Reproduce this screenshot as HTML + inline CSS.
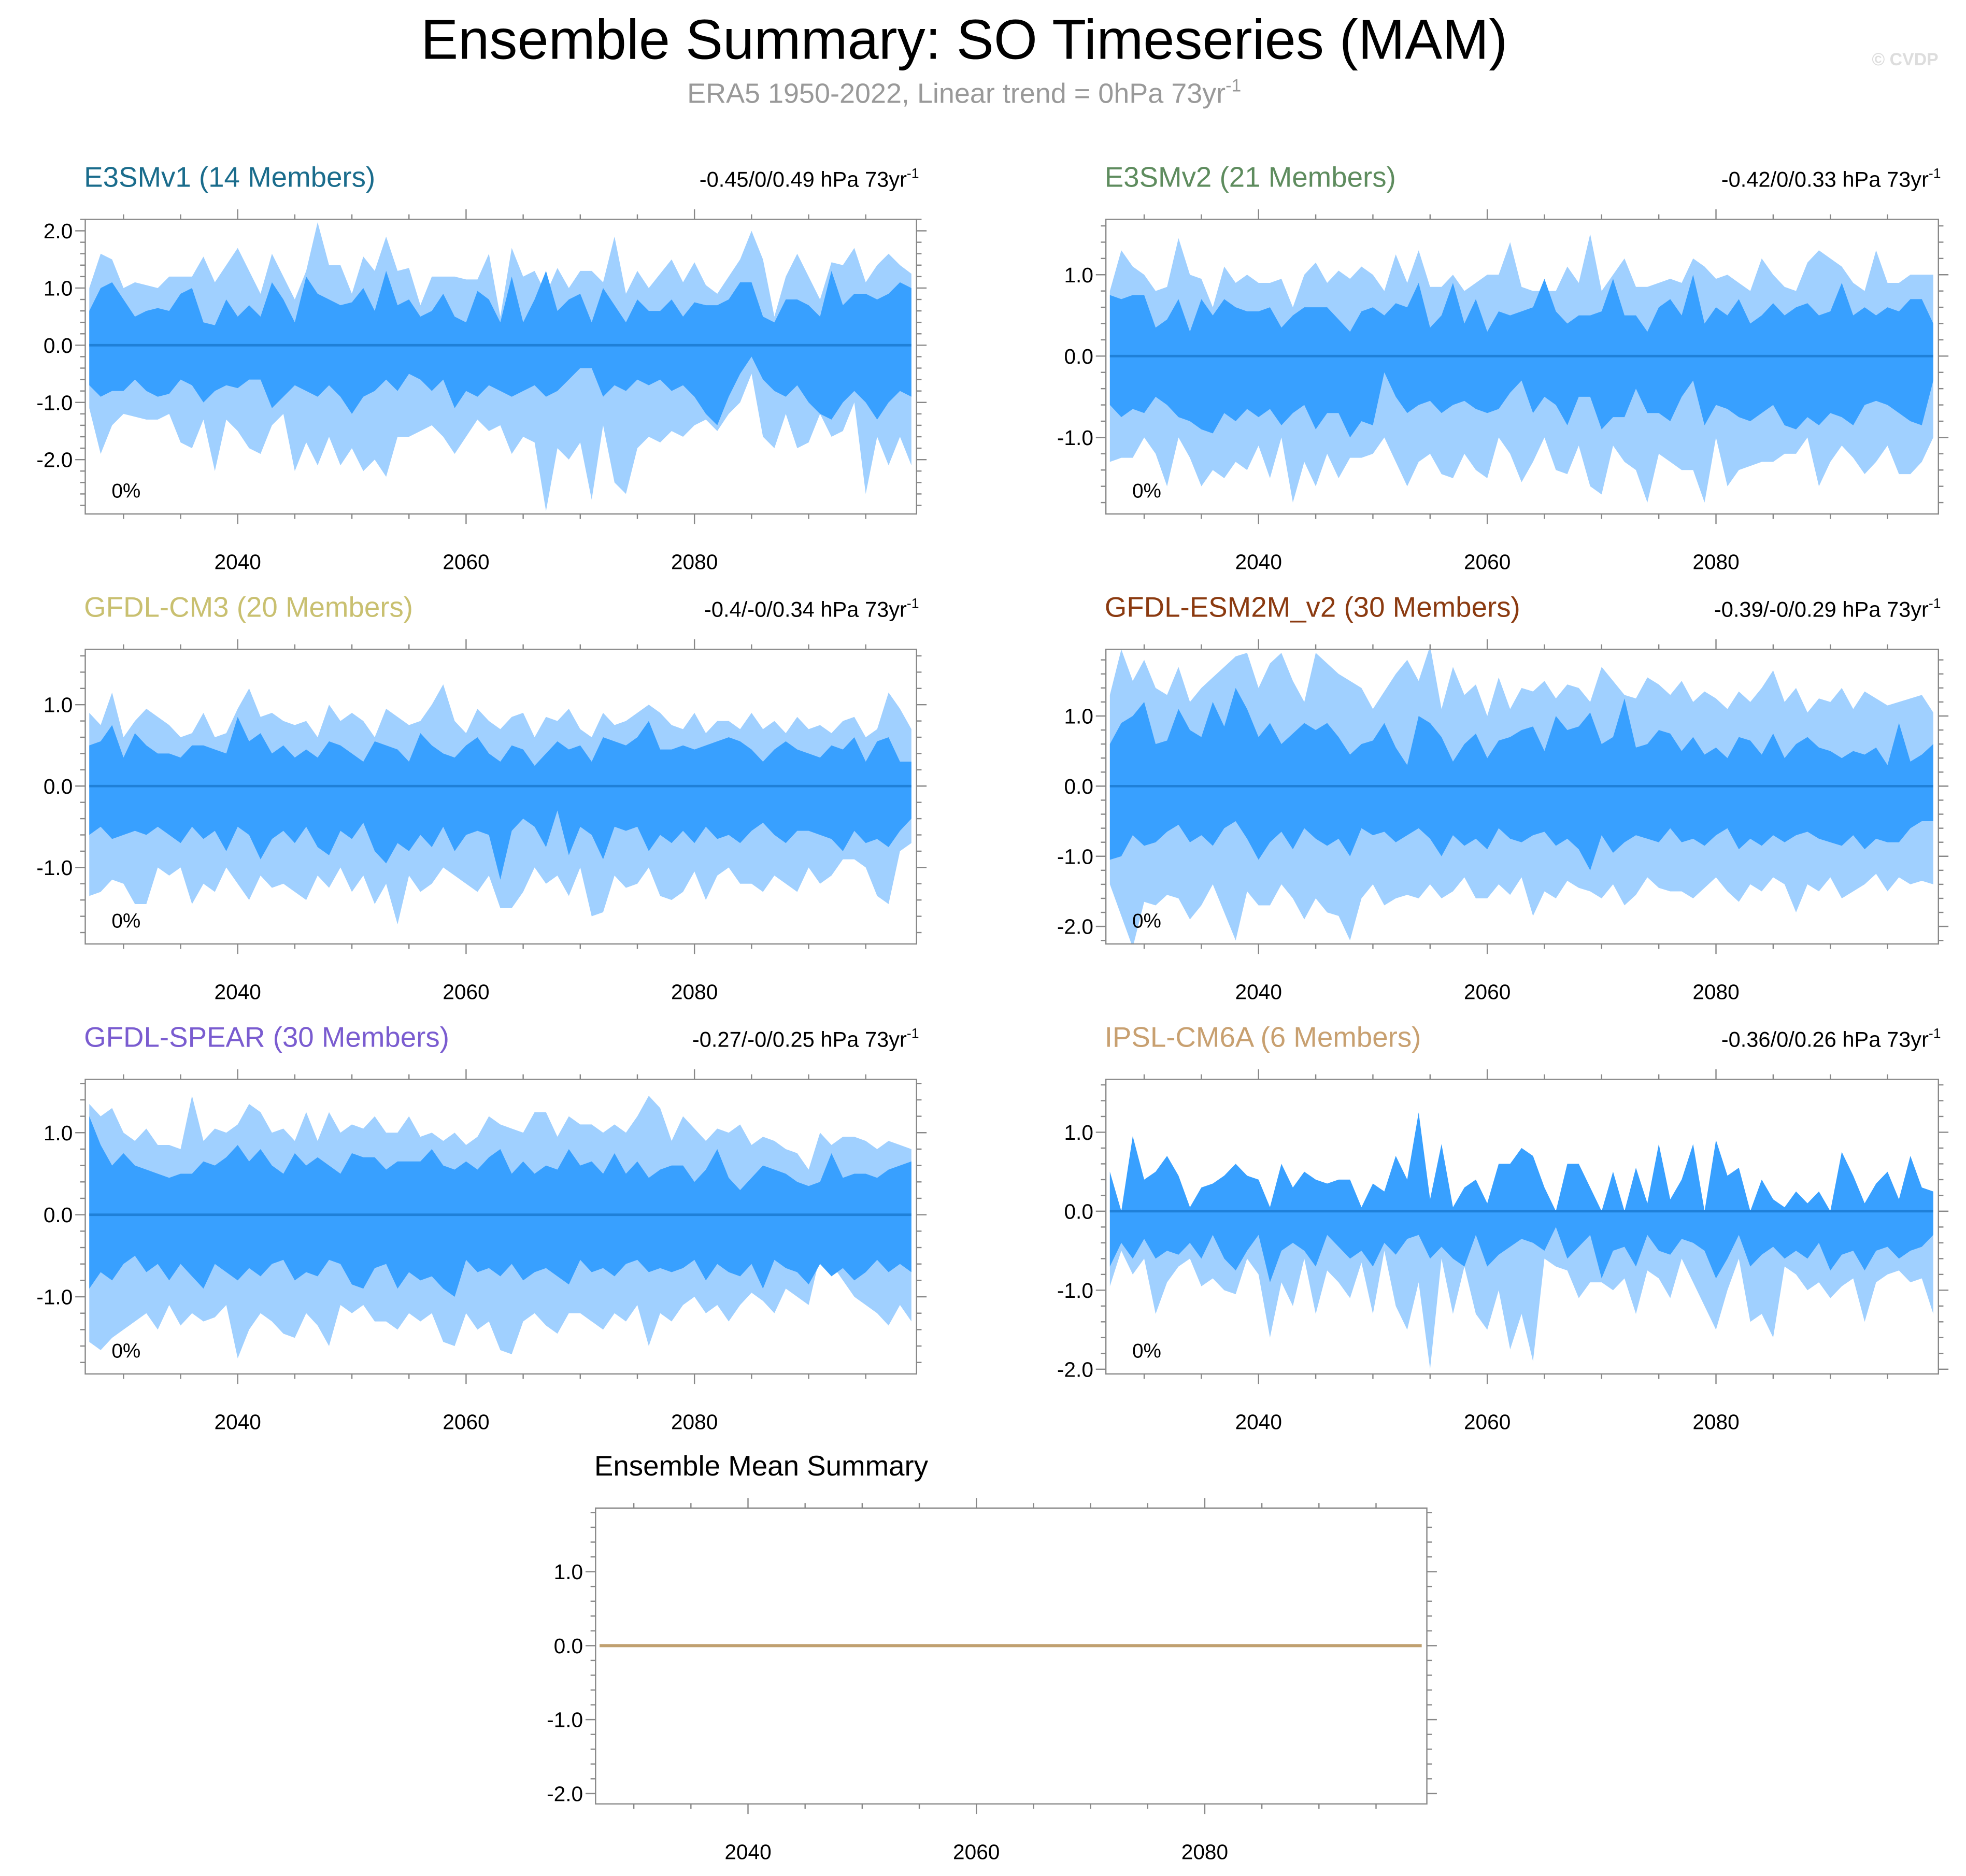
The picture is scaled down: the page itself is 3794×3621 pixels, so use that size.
<!DOCTYPE html>
<html><head><meta charset="utf-8"><style>
html,body{margin:0;padding:0;background:#fff}
svg{display:block;font-family:"Liberation Sans",Arial,sans-serif}
</style></head><body>
<svg id="chart" width="3794" height="3621" viewBox="0 0 1568 1496.5" xmlns="http://www.w3.org/2000/svg">
<rect width="1568" height="1497" fill="#fff"/>
<text x="769" y="47" font-size="44.7" text-anchor="middle" fill="#000">Ensemble Summary: SO Timeseries (MAM)</text>
<text x="769" y="82" font-size="22.3" text-anchor="middle" fill="#999">ERA5 1950-2022, Linear trend = 0hPa 73yr<tspan dy="-9" font-size="14">-1</tspan></text>
<text x="1546" y="52" font-size="14" font-weight="bold" text-anchor="end" fill="#ddd">© CVDP</text>
<g id="panels"></g>
</svg>
<script>
const yearStart = 2027;
const xTickLabels = [2040, 2060, 2080];
const ensMean = [0,0,0,0,0,0,0,0,0,0,0,0,0,0,0,0,0,0,0,0,0,0,0,0,0,0,0,0,0,0,0,0,0,0,0,0,0,0,0,0,0,0,0,0,0,0,0,0,0,0,0,0,0,0,0,0,0,0,0,0,0,0,0,0,0,0,0,0,0,0,0,0,0];

const p1Hi=[1.0,1.6,1.5,1.0,1.1,1.05,1.0,1.2,1.2,1.2,1.55,1.1,1.4,1.7,1.3,0.9,1.6,1.2,0.8,1.3,2.15,1.4,1.4,0.9,1.55,1.3,1.9,1.3,1.35,0.7,1.2,1.2,1.2,1.15,1.15,1.6,0.5,1.7,1.2,1.3,0.9,1.35,1.0,1.3,1.3,1.1,1.9,0.9,1.3,1.0,1.25,1.5,1.1,1.45,1.05,0.9,1.2,1.5,2.0,1.5,0.5,1.2,1.6,1.2,0.8,1.45,1.4,1.7,1.1,1.4,1.6,1.4,1.25];
const p1Up=[0.6,1.0,1.1,0.8,0.5,0.6,0.65,0.6,0.9,1.0,0.4,0.35,0.8,0.5,0.7,0.5,1.1,0.8,0.4,1.2,0.9,0.8,0.7,0.75,1.0,0.6,1.3,0.7,0.8,0.5,0.6,0.9,0.5,0.4,0.95,0.8,0.4,1.2,0.4,0.8,1.3,0.6,0.8,0.9,0.4,1.0,0.7,0.4,0.8,0.6,0.6,0.8,0.5,0.75,0.7,0.7,0.8,1.1,1.1,0.5,0.4,0.8,0.8,0.7,0.5,1.3,0.7,0.9,0.9,0.8,0.9,1.1,1.0];
const p1Lo=[-0.7,-0.9,-0.8,-0.8,-0.6,-0.8,-0.9,-0.85,-0.6,-0.7,-1.0,-0.8,-0.7,-0.75,-0.6,-0.6,-1.1,-0.9,-0.7,-0.8,-0.9,-0.7,-0.9,-1.2,-0.9,-0.8,-0.6,-0.8,-0.5,-0.6,-0.8,-0.6,-1.1,-0.8,-0.9,-0.7,-0.8,-0.9,-0.8,-0.7,-0.9,-0.8,-0.6,-0.4,-0.4,-0.9,-0.7,-0.8,-0.6,-0.7,-0.6,-0.8,-0.7,-0.9,-1.2,-1.4,-0.9,-0.5,-0.2,-0.6,-0.8,-0.9,-0.7,-1.0,-1.2,-1.3,-1.0,-0.8,-1.0,-1.3,-1.0,-0.8,-0.9];
const p1Lw=[-1.1,-1.9,-1.4,-1.2,-1.25,-1.3,-1.3,-1.2,-1.7,-1.8,-1.3,-2.2,-1.3,-1.5,-1.8,-1.9,-1.4,-1.2,-2.2,-1.7,-2.1,-1.6,-2.1,-1.8,-2.2,-2.0,-2.3,-1.6,-1.6,-1.5,-1.4,-1.6,-1.9,-1.6,-1.3,-1.5,-1.4,-1.9,-1.6,-1.7,-2.9,-1.8,-2.0,-1.7,-2.7,-1.4,-2.4,-2.6,-1.8,-1.6,-1.7,-1.5,-1.6,-1.4,-1.3,-1.5,-1.2,-1.0,-0.5,-1.6,-1.8,-1.2,-1.8,-1.7,-1.2,-1.6,-1.5,-1.0,-2.6,-1.6,-2.1,-1.6,-2.1];

const p2Hi=[0.8,1.3,1.1,1.0,0.8,0.85,1.45,1.0,0.95,0.6,1.1,0.9,1.0,0.9,0.9,0.95,0.6,1.0,1.15,0.9,1.05,0.95,1.1,1.0,0.8,1.25,0.9,1.3,0.85,0.85,1.0,0.8,0.9,1.0,1.0,1.4,0.85,0.8,0.8,0.8,1.1,0.9,1.5,0.8,1.0,1.2,0.85,0.85,0.9,0.95,0.9,1.2,1.1,0.95,1.0,0.9,0.8,1.2,1.0,0.85,0.8,1.15,1.3,1.2,1.1,0.9,0.8,1.3,0.9,0.9,1.0,1.0,1.0];
const p2Up=[0.75,0.7,0.75,0.75,0.35,0.45,0.7,0.3,0.7,0.5,0.7,0.6,0.55,0.55,0.6,0.35,0.5,0.6,0.6,0.6,0.45,0.3,0.55,0.6,0.5,0.65,0.6,0.9,0.35,0.5,0.9,0.4,0.7,0.3,0.55,0.5,0.55,0.6,0.95,0.55,0.4,0.5,0.5,0.55,0.95,0.5,0.5,0.3,0.6,0.7,0.5,1.0,0.4,0.6,0.5,0.7,0.4,0.5,0.65,0.5,0.6,0.65,0.5,0.55,0.9,0.5,0.6,0.5,0.6,0.55,0.7,0.7,0.4];
const p2Lo=[-0.6,-0.75,-0.65,-0.7,-0.5,-0.6,-0.75,-0.8,-0.9,-0.95,-0.7,-0.8,-0.65,-0.75,-0.65,-0.85,-0.7,-0.6,-0.9,-0.7,-0.7,-1.0,-0.8,-0.85,-0.2,-0.5,-0.7,-0.6,-0.55,-0.7,-0.6,-0.55,-0.65,-0.7,-0.65,-0.45,-0.3,-0.7,-0.5,-0.6,-0.85,-0.5,-0.5,-0.9,-0.75,-0.75,-0.4,-0.7,-0.7,-0.8,-0.5,-0.3,-0.85,-0.6,-0.65,-0.75,-0.8,-0.7,-0.6,-0.85,-0.9,-0.75,-0.85,-0.7,-0.75,-0.85,-0.6,-0.55,-0.6,-0.7,-0.8,-0.85,-0.3];
const p2Lw=[-1.3,-1.25,-1.25,-1.0,-1.2,-1.6,-1.0,-1.25,-1.6,-1.4,-1.5,-1.3,-1.4,-1.1,-1.5,-1.0,-1.8,-1.3,-1.6,-1.2,-1.5,-1.25,-1.25,-1.2,-1.0,-1.3,-1.6,-1.3,-1.2,-1.45,-1.5,-1.2,-1.4,-1.5,-1.0,-1.2,-1.55,-1.3,-1.0,-1.4,-1.45,-1.1,-1.6,-1.7,-1.1,-1.3,-1.4,-1.8,-1.2,-1.3,-1.4,-1.4,-1.8,-1.0,-1.6,-1.4,-1.35,-1.3,-1.3,-1.2,-1.2,-1.0,-1.6,-1.3,-1.1,-1.25,-1.45,-1.3,-1.1,-1.45,-1.45,-1.3,-1.0];

const p3Hi=[0.9,0.75,1.15,0.6,0.8,0.95,0.85,0.75,0.6,0.65,0.9,0.6,0.65,0.95,1.2,0.85,0.9,0.8,0.75,0.8,0.6,1.0,0.8,0.9,0.8,0.6,0.95,0.85,0.75,0.8,1.0,1.25,0.8,0.65,0.95,0.8,0.7,0.85,0.9,0.6,0.85,0.8,0.95,0.7,0.6,0.9,0.75,0.8,0.9,1.0,0.9,0.75,0.7,0.9,0.65,0.8,0.8,0.7,0.9,0.7,0.8,0.65,0.85,0.7,0.75,0.65,0.8,0.85,0.6,0.7,1.15,0.95,0.7];
const p3Up=[0.5,0.55,0.75,0.35,0.65,0.5,0.4,0.4,0.35,0.5,0.5,0.45,0.4,0.85,0.55,0.65,0.4,0.5,0.35,0.45,0.35,0.55,0.5,0.4,0.3,0.55,0.5,0.45,0.3,0.65,0.5,0.4,0.35,0.5,0.6,0.4,0.3,0.5,0.45,0.25,0.4,0.55,0.45,0.5,0.3,0.6,0.55,0.5,0.6,0.8,0.45,0.45,0.5,0.45,0.5,0.55,0.6,0.55,0.45,0.3,0.45,0.55,0.45,0.4,0.35,0.5,0.45,0.6,0.3,0.55,0.6,0.3,0.3];
const p3Lo=[-0.6,-0.5,-0.65,-0.6,-0.55,-0.6,-0.5,-0.6,-0.7,-0.5,-0.65,-0.55,-0.8,-0.5,-0.6,-0.9,-0.65,-0.55,-0.7,-0.5,-0.75,-0.85,-0.55,-0.65,-0.45,-0.8,-0.95,-0.7,-0.8,-0.6,-0.75,-0.5,-0.8,-0.6,-0.55,-0.6,-1.15,-0.55,-0.4,-0.5,-0.75,-0.3,-0.85,-0.5,-0.6,-0.9,-0.5,-0.55,-0.5,-0.8,-0.6,-0.7,-0.55,-0.7,-0.5,-0.65,-0.6,-0.7,-0.55,-0.45,-0.6,-0.7,-0.55,-0.55,-0.6,-0.65,-0.8,-0.55,-0.7,-0.65,-0.75,-0.55,-0.4];
const p3Lw=[-1.35,-1.3,-1.15,-1.2,-1.45,-1.45,-1.0,-1.1,-1.0,-1.45,-1.2,-1.3,-1.0,-1.2,-1.4,-1.1,-1.25,-1.2,-1.3,-1.4,-1.1,-1.25,-1.0,-1.3,-1.1,-1.45,-1.2,-1.7,-1.1,-1.3,-1.2,-1.0,-1.1,-1.2,-1.3,-1.1,-1.5,-1.5,-1.3,-1.0,-1.2,-1.1,-1.35,-1.0,-1.6,-1.55,-1.1,-1.25,-1.2,-1.0,-1.35,-1.4,-1.3,-1.05,-1.4,-1.1,-1.0,-1.2,-1.2,-1.3,-1.1,-1.2,-1.3,-1.0,-1.2,-1.1,-0.9,-0.9,-1.0,-1.35,-1.45,-0.8,-0.7];

const p4Hi=[1.3,1.95,1.5,1.8,1.4,1.3,1.7,1.2,1.4,1.55,1.7,1.85,1.9,1.4,1.75,1.9,1.5,1.2,1.9,1.75,1.6,1.5,1.4,1.1,1.35,1.6,1.8,1.5,2.0,1.1,1.7,1.3,1.45,1.0,1.55,1.1,1.4,1.35,1.5,1.25,1.45,1.4,1.2,1.7,1.5,1.3,1.25,1.55,1.45,1.3,1.5,1.2,1.35,1.25,1.1,1.35,1.2,1.4,1.65,1.2,1.4,1.05,1.25,1.2,1.4,1.1,1.35,1.25,1.15,1.2,1.25,1.3,1.05];
const p4Up=[0.6,0.9,1.0,1.2,0.6,0.65,1.1,0.8,0.7,1.2,0.85,1.4,1.1,0.7,0.9,0.6,0.75,0.9,0.8,0.9,0.7,0.45,0.6,0.65,0.9,0.55,0.3,1.0,0.9,0.7,0.35,0.6,0.75,0.4,0.65,0.7,0.8,0.85,0.5,1.0,0.8,0.85,1.05,0.6,0.7,1.25,0.55,0.6,0.8,0.75,0.5,0.7,0.45,0.55,0.4,0.7,0.65,0.45,0.75,0.4,0.6,0.7,0.55,0.5,0.4,0.5,0.45,0.55,0.3,0.9,0.35,0.45,0.6];
const p4Lo=[-1.05,-1.0,-0.7,-0.85,-0.8,-0.65,-0.55,-0.8,-0.7,-0.85,-0.6,-0.5,-0.75,-1.05,-0.8,-0.65,-0.9,-0.6,-0.75,-0.85,-0.75,-1.0,-0.6,-0.7,-0.65,-0.8,-0.7,-0.6,-0.75,-1.0,-0.7,-0.85,-0.75,-0.9,-0.6,-0.75,-0.8,-0.7,-0.65,-0.85,-0.75,-0.9,-1.2,-0.7,-0.95,-0.8,-0.7,-0.75,-0.8,-0.6,-0.8,-0.75,-0.85,-0.7,-0.6,-0.9,-0.75,-0.85,-0.7,-0.8,-0.7,-0.65,-0.75,-0.8,-0.85,-0.7,-0.9,-0.75,-0.8,-0.8,-0.6,-0.5,-0.5];
const p4Lw=[-1.4,-1.85,-2.3,-1.65,-1.7,-1.55,-1.6,-1.9,-1.7,-1.4,-1.8,-2.2,-1.5,-1.7,-1.7,-1.4,-1.6,-1.9,-1.6,-1.8,-1.85,-2.2,-1.6,-1.4,-1.7,-1.6,-1.55,-1.6,-1.4,-1.6,-1.5,-1.3,-1.6,-1.6,-1.4,-1.55,-1.3,-1.85,-1.5,-1.6,-1.35,-1.45,-1.5,-1.6,-1.4,-1.7,-1.55,-1.3,-1.45,-1.5,-1.5,-1.6,-1.45,-1.3,-1.5,-1.65,-1.4,-1.5,-1.3,-1.4,-1.8,-1.4,-1.5,-1.3,-1.6,-1.5,-1.4,-1.25,-1.5,-1.3,-1.4,-1.35,-1.4];

const p5Hi=[1.35,1.2,1.3,1.0,0.9,1.05,0.85,0.85,0.8,1.45,0.9,1.05,1.0,1.1,1.35,1.25,1.0,1.05,0.9,1.25,0.9,1.25,1.0,1.1,1.05,1.2,1.0,1.0,1.2,0.95,1.0,0.9,1.0,0.85,0.95,1.2,1.1,1.05,1.0,1.25,1.25,0.95,1.2,1.1,1.1,1.0,1.1,1.0,1.2,1.45,1.3,0.9,1.2,1.05,0.9,1.05,1.0,1.1,0.85,0.95,0.9,0.8,0.75,0.55,1.0,0.85,0.95,0.95,0.9,0.8,0.9,0.85,0.8];
const p5Up=[1.2,0.85,0.6,0.75,0.6,0.55,0.5,0.45,0.5,0.5,0.65,0.6,0.7,0.85,0.65,0.8,0.6,0.5,0.75,0.6,0.7,0.6,0.5,0.75,0.7,0.7,0.55,0.65,0.65,0.65,0.8,0.6,0.55,0.65,0.55,0.7,0.8,0.5,0.65,0.5,0.6,0.55,0.8,0.6,0.65,0.5,0.75,0.5,0.65,0.45,0.55,0.6,0.6,0.4,0.55,0.8,0.45,0.3,0.45,0.6,0.55,0.5,0.4,0.35,0.4,0.75,0.45,0.5,0.5,0.45,0.55,0.6,0.65];
const p5Lo=[-0.9,-0.7,-0.8,-0.6,-0.5,-0.7,-0.6,-0.8,-0.6,-0.75,-0.9,-0.6,-0.7,-0.8,-0.65,-0.75,-0.6,-0.55,-0.8,-0.7,-0.75,-0.55,-0.6,-0.85,-0.9,-0.65,-0.6,-0.9,-0.7,-0.8,-0.75,-0.9,-1.0,-0.55,-0.7,-0.65,-0.75,-0.6,-0.8,-0.7,-0.65,-0.75,-0.85,-0.55,-0.7,-0.65,-0.75,-0.6,-0.55,-0.7,-0.65,-0.7,-0.65,-0.55,-0.8,-0.6,-0.7,-0.75,-0.6,-0.9,-0.55,-0.65,-0.7,-0.85,-0.6,-0.75,-0.65,-0.8,-0.7,-0.55,-0.7,-0.6,-0.7];
const p5Lw=[-1.55,-1.65,-1.5,-1.4,-1.3,-1.2,-1.4,-1.1,-1.35,-1.2,-1.3,-1.25,-1.1,-1.75,-1.4,-1.2,-1.3,-1.45,-1.5,-1.2,-1.35,-1.6,-1.1,-1.2,-1.1,-1.3,-1.3,-1.4,-1.2,-1.3,-1.2,-1.55,-1.6,-1.2,-1.4,-1.3,-1.65,-1.7,-1.3,-1.2,-1.35,-1.45,-1.2,-1.2,-1.3,-1.4,-1.2,-1.3,-1.1,-1.6,-1.2,-1.3,-1.1,-1.0,-1.2,-1.1,-1.3,-1.1,-0.95,-1.05,-1.2,-0.9,-1.0,-1.1,-0.5,-0.6,-0.8,-1.0,-1.1,-1.2,-1.35,-1.1,-1.3];

const p6Hi=[0.5,0.0,0.95,0.4,0.5,0.7,0.45,0.05,0.3,0.35,0.45,0.6,0.45,0.4,0.05,0.6,0.3,0.5,0.4,0.35,0.4,0.4,0.05,0.35,0.25,0.7,0.4,1.25,0.15,0.85,0.05,0.3,0.4,0.1,0.6,0.6,0.8,0.7,0.3,0.0,0.6,0.6,0.3,0.0,0.5,0.0,0.55,0.1,0.85,0.15,0.4,0.85,0.0,0.9,0.45,0.55,0.0,0.4,0.15,0.05,0.25,0.1,0.25,0.0,0.75,0.45,0.1,0.35,0.5,0.15,0.7,0.3,0.25];
const p6Up=p6Hi;
const p6Lo=[-0.7,-0.4,-0.6,-0.35,-0.6,-0.5,-0.55,-0.4,-0.6,-0.3,-0.6,-0.75,-0.5,-0.3,-0.9,-0.5,-0.4,-0.5,-0.7,-0.3,-0.45,-0.6,-0.5,-0.7,-0.4,-0.55,-0.35,-0.3,-0.6,-0.45,-0.6,-0.7,-0.3,-0.7,-0.55,-0.45,-0.35,-0.4,-0.5,-0.2,-0.6,-0.45,-0.3,-0.85,-0.5,-0.45,-0.7,-0.3,-0.5,-0.55,-0.35,-0.4,-0.5,-0.85,-0.6,-0.3,-0.7,-0.55,-0.45,-0.6,-0.5,-0.6,-0.4,-0.75,-0.55,-0.5,-0.75,-0.5,-0.45,-0.6,-0.5,-0.45,-0.3];
const p6Lw=[-0.95,-0.5,-0.8,-0.6,-1.3,-0.9,-0.7,-0.6,-0.95,-0.85,-1.0,-1.05,-0.6,-0.8,-1.6,-0.9,-1.2,-0.6,-1.3,-0.75,-0.9,-1.1,-0.65,-1.3,-0.5,-1.2,-1.5,-0.9,-2.0,-0.6,-1.3,-0.7,-1.3,-1.5,-1.0,-1.75,-1.3,-1.9,-0.6,-0.7,-0.75,-1.1,-0.9,-0.9,-1.0,-0.85,-1.3,-0.75,-0.85,-1.1,-0.6,-0.9,-1.2,-1.5,-1.0,-0.6,-1.4,-1.3,-1.6,-0.7,-0.8,-1.0,-0.9,-1.1,-0.95,-0.85,-1.4,-0.9,-0.8,-0.75,-0.9,-0.85,-1.3];

const NS="http://www.w3.org/2000/svg";
const root=document.getElementById('panels');
function mk(tag,attrs,parent){const e=document.createElementNS(NS,tag);for(const k in attrs)e.setAttribute(k,attrs[k]);(parent||root).appendChild(e);return e;}

const panels=[
 {id:'e3smv1',title:'E3SMv1 (14 Members)',color:'#1a6c8c',trend:'-0.45/0/0.49 hPa 73yr',x0:68,x1:731,y0:175,y1:410,vTop:2.2,vBot:-2.95,yTicks:[2,1,0,-1,-2],d:[p1Hi,p1Up,p1Lo,p1Lw]},
 {id:'e3smv2',title:'E3SMv2 (21 Members)',color:'#5e8c5e',trend:'-0.42/0/0.33 hPa 73yr',x0:882,x1:1546,y0:175,y1:410,vTop:1.68,vBot:-1.94,yTicks:[1,0,-1],d:[p2Hi,p2Up,p2Lo,p2Lw]},
 {id:'gfdl-cm3',title:'GFDL-CM3 (20 Members)',color:'#c9c070',trend:'-0.4/-0/0.34 hPa 73yr',x0:68,x1:731,y0:518,y1:753,vTop:1.68,vBot:-1.94,yTicks:[1,0,-1],d:[p3Hi,p3Up,p3Lo,p3Lw]},
 {id:'gfdl-esm2m',title:'GFDL-ESM2M_v2 (30 Members)',color:'#8b3a10',trend:'-0.39/-0/0.29 hPa 73yr',x0:882,x1:1546,y0:518,y1:753,vTop:1.95,vBot:-2.25,yTicks:[1,0,-1,-2],d:[p4Hi,p4Up,p4Lo,p4Lw]},
 {id:'gfdl-spear',title:'GFDL-SPEAR (30 Members)',color:'#7a5cd0',trend:'-0.27/-0/0.25 hPa 73yr',x0:68,x1:731,y0:861,y1:1096,vTop:1.65,vBot:-1.94,yTicks:[1,0,-1],d:[p5Hi,p5Up,p5Lo,p5Lw]},
 {id:'ipsl-cm6a',title:'IPSL-CM6A (6 Members)',color:'#c8a070',trend:'-0.36/0/0.26 hPa 73yr',x0:882,x1:1546,y0:861,y1:1096,vTop:1.67,vBot:-2.06,yTicks:[1,0,-1,-2],d:[p6Hi,p6Up,p6Lo,p6Lw]},
 {id:'ensemble-mean',title:'Ensemble Mean Summary',color:'#000',trend:null,x0:475,x1:1138,y0:1203,y1:1439,vTop:1.86,vBot:-2.14,yTicks:[1,0,-1,-2],d:null}
];

panels.forEach((p,pi)=>{
  const g=mk('g',{});
  
  
  const w=p.x1-p.x0;
  const yr0=2026.65, yr1=2099.45;
  const xs=y=>p.x0+(y-yr0)/(yr1-yr0)*w;
  const ys=v=>p.y0+(p.vTop-v)/(p.vTop-p.vBot)*(p.y1-p.y0);
  const cid='clip'+pi;
  const cp=mk('clipPath',{id:cid},g);
  mk('rect',{x:p.x0,y:p.y0,width:w,height:p.y1-p.y0},cp);
  const plot=mk('g',{'clip-path':'url(#'+cid+')'},g);
  if(p.d){
    const [hi,up,lo,lw]=p.d;
    const band=(a,b)=>{let pts=[];a.forEach((v,i)=>pts.push(xs(yearStart+i).toFixed(2)+','+ys(v).toFixed(2)));for(let i=b.length-1;i>=0;i--)pts.push(xs(yearStart+i).toFixed(2)+','+ys(b[i]).toFixed(2));return pts.join(' ');};
    const outer=mk('polygon',{points:band(hi,lw),fill:'#a0d0ff'},plot);
    
    
    const inner=mk('polygon',{points:band(up,lo),fill:'#38a0ff'},plot);
    
    
  }
  const meanPts=ensMean.map((v,i)=>xs(yearStart+i).toFixed(2)+','+ys(v).toFixed(2)).join(' ');
  const ml=mk('polyline',{points:meanPts,fill:'none',stroke:p.d?'#1f80d8':'#c0a070','stroke-width':p.d?2:2.5},plot);
  
  
  const fr=mk('rect',{x:p.x0,y:p.y0,width:w,height:p.y1-p.y0,fill:'none',stroke:'#888','stroke-width':1},g);
  
  
  const step=0.2;
  for(let v=Math.ceil(p.vBot/step)*step; v<=p.vTop+1e-9; v+=step){
    const vv=Math.round(v*10)/10;
    const major=Math.abs(vv-Math.round(vv))<1e-6;
    const L=major?8:4;
    mk('line',{x1:p.x0,x2:p.x0-L,y1:ys(vv),y2:ys(vv),stroke:'#888','stroke-width':1},g);
    mk('line',{x1:p.x1,x2:p.x1+L,y1:ys(vv),y2:ys(vv),stroke:'#888','stroke-width':1},g);
  }
  p.yTicks.forEach(v=>{
    const t=mk('text',{x:p.x0-10,y:ys(v)+6,'font-size':16.8,'text-anchor':'end',fill:'#000'},g);
    t.textContent=v.toFixed(1);
    
    
  });
  for(let yv=2030; yv<=2095; yv+=5){
    const major=yv%20===0;
    const L=major?8:4;
    mk('line',{x1:xs(yv),x2:xs(yv),y1:p.y1,y2:p.y1+L,stroke:'#888','stroke-width':1},g);
    mk('line',{x1:xs(yv),x2:xs(yv),y1:p.y0,y2:p.y0-L,stroke:'#888','stroke-width':1},g);
  }
  xTickLabels.forEach(yv=>{
    const t=mk('text',{x:xs(yv),y:p.y1+44,'font-size':16.8,'text-anchor':'middle',fill:'#000'},g);
    t.textContent=yv;
    
    
  });
  const tt=mk('text',{x:p.x0-1,y:p.y0-26,'font-size':22.6,fill:p.color},g);
  tt.textContent=p.title;
  
  
  if(p.trend){
    const tr=mk('text',{x:p.x1+2,y:p.y0-26,'font-size':17.2,'text-anchor':'end',fill:'#000'},g);
    tr.textContent=p.trend;
    const sp=mk('tspan',{dy:-7,'font-size':11},tr);
    sp.textContent='-1';
    
    
    const pc=mk('text',{x:p.x0+21,y:p.y1-13,'font-size':16,fill:'#000'},g);
    pc.textContent='0%';
    
    
  }
});
</script>
</body></html>
